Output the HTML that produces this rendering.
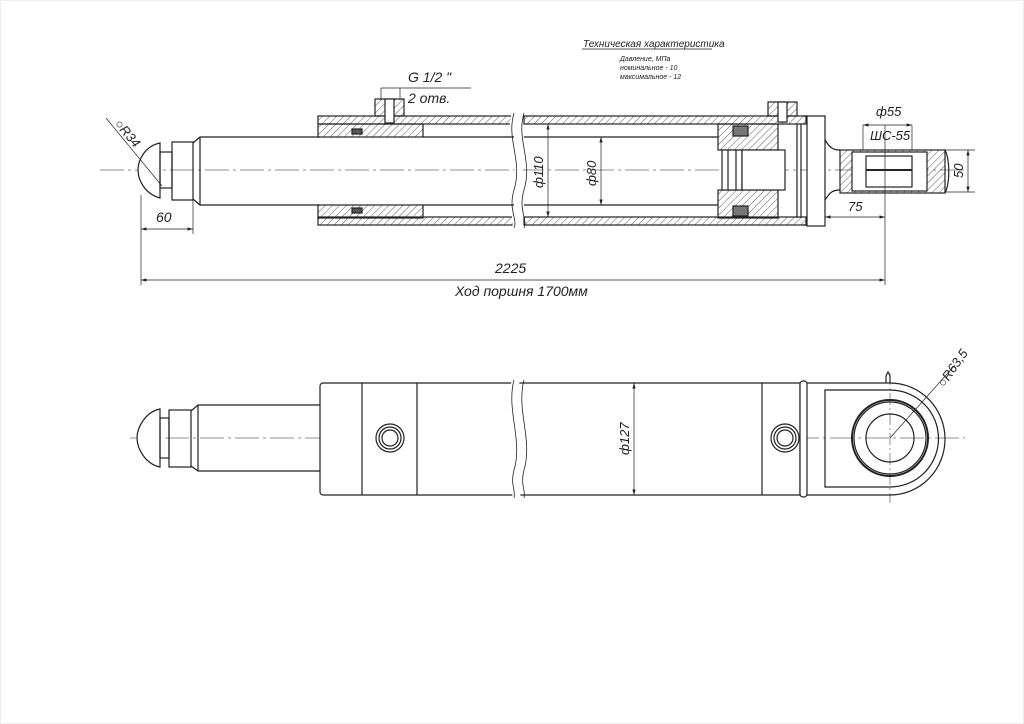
<!DOCTYPE html>
<html><head><meta charset="utf-8"><style>
html,body{margin:0;padding:0;background:#fff;}
svg{display:block;}
text{font-family:"Liberation Sans","DejaVu Sans",sans-serif;font-style:italic;fill:#222;}
</style></head><body>
<svg width="1024" height="724" viewBox="0 0 1024 724" xmlns="http://www.w3.org/2000/svg">
<defs>
<pattern id="h" width="5" height="5" patternUnits="userSpaceOnUse" patternTransform="rotate(45)">
<line x1="0" y1="0" x2="0" y2="5" stroke="#333" stroke-width="0.8"/>
</pattern>
<marker id="a" viewBox="0 0 10 6" refX="10" refY="3" markerWidth="8" markerHeight="5" orient="auto-start-reverse"><path d="M0,0 L10,3 L0,6z" fill="#222"/></marker>
</defs>
<rect x="0.5" y="0.5" width="1023" height="723" fill="#fff" stroke="#eee"/>
<g stroke="#222" stroke-width="1.2" fill="none">
<!-- TOP VIEW -->
<line x1="100" y1="170" x2="968" y2="170" stroke-width="0.6" stroke-dasharray="24,4,3,4"/>
<!-- ball head -->
<path d="M160,143 C145,146 138,160 138,170 C138,180 145,194 160,198 Z" fill="#fff"/>
<rect x="160" y="152" width="12" height="36"/>
<rect x="172" y="142" width="21" height="58"/>
<path d="M193,143 L200,137 L320,137 M193,199 L200,205 L320,205"/>
<line x1="200" y1="137" x2="200" y2="205"/>
<!-- cylinder walls hatched -->
<rect x="318" y="116" width="198" height="8" fill="url(#h)"/>
<rect x="318" y="217" width="198" height="8" fill="url(#h)"/>
<rect x="524" y="116" width="282" height="8" fill="url(#h)"/>
<rect x="524" y="217" width="282" height="8" fill="url(#h)"/>
<!-- gland -->
<rect x="318" y="124" width="105" height="13" fill="url(#h)"/>
<rect x="318" y="205" width="105" height="13" fill="url(#h)"/>
<rect x="352" y="129" width="10" height="5" fill="#555"/>
<rect x="352" y="208" width="10" height="5" fill="#555"/>
<!-- ports -->
<rect x="375" y="99" width="29" height="17" fill="url(#h)"/>
<rect x="385" y="99" width="9" height="24" fill="#fff"/>
<rect x="768" y="102" width="29" height="14" fill="url(#h)"/>
<rect x="778" y="102" width="9" height="20" fill="#fff"/>
<!-- break -->
<path d="M516,113 C508,140 525,160 516,190 C510,210 520,220 516,228" fill="#fff" stroke="#fff" stroke-width="8"/>
<path d="M514,113 C506,140 523,160 514,190 C508,210 518,220 514,228" stroke-width="0.8"/>
<path d="M524,113 C516,140 533,160 524,190 C518,210 528,220 524,228" stroke-width="0.8"/>
<!-- rod inside -->
<path d="M423,137 L514,137 M423,205 L514,205 M524,137 L718,137 M524,205 L718,205"/>
<!-- piston -->
<rect x="718" y="124" width="60" height="26" fill="url(#h)"/>
<rect x="718" y="190" width="60" height="28" fill="url(#h)"/>
<rect x="733" y="126" width="15" height="10" fill="#777"/>
<rect x="733" y="206" width="15" height="10" fill="#777"/>
<rect x="722" y="150" width="20" height="40" fill="#fff"/>
<line x1="728" y1="150" x2="728" y2="190"/><line x1="736" y1="150" x2="736" y2="190"/>
<rect x="742" y="150" width="43" height="40" fill="#fff"/>
<line x1="797" y1="124" x2="797" y2="218"/><line x1="801" y1="124" x2="801" y2="218"/>
<path d="M803,116 L808,116 L808,225 L803,225"/>
<!-- flange -->
<rect x="807" y="116" width="18" height="110" fill="#fff"/>
<path d="M825,140 C830,148 833,150 840,150 M825,200 C830,192 833,190 840,190"/>
<!-- eye -->
<rect x="840" y="150" width="105" height="43" fill="url(#h)"/>
<path d="M945,150 C950,160 950,183 945,193"/>
<rect x="852" y="152" width="75" height="39" fill="#fff"/>
<rect x="866" y="156" width="46" height="31" fill="#fff"/>
<line x1="866" y1="170" x2="912" y2="170" stroke-width="2"/>
<!-- dims top -->
<g stroke-width="0.7">
<line x1="141" y1="195" x2="141" y2="285"/>
<line x1="193" y1="200" x2="193" y2="234"/>
<line x1="141" y1="229" x2="193" y2="229" marker-start="url(#a)" marker-end="url(#a)"/>
<line x1="885" y1="125" x2="885" y2="285"/>
<line x1="141" y1="280" x2="885" y2="280" marker-start="url(#a)" marker-end="url(#a)"/>
<line x1="825" y1="217" x2="885" y2="217" marker-start="url(#a)" marker-end="url(#a)"/>
<line x1="863" y1="125" x2="912" y2="125" marker-start="url(#a)" marker-end="url(#a)"/>
<line x1="863" y1="125" x2="863" y2="150"/><line x1="912" y1="125" x2="912" y2="150"/>
<line x1="945" y1="150" x2="975" y2="150"/><line x1="945" y1="192" x2="975" y2="192"/>
<line x1="968" y1="150" x2="968" y2="192" marker-start="url(#a)" marker-end="url(#a)"/>
<line x1="548" y1="124" x2="548" y2="217" marker-start="url(#a)" marker-end="url(#a)"/>
<line x1="601" y1="137" x2="601" y2="205" marker-start="url(#a)" marker-end="url(#a)"/>
<line x1="381" y1="88" x2="471" y2="88"/>
<line x1="381" y1="88" x2="381" y2="100"/><line x1="400" y1="88" x2="400" y2="100"/>
<line x1="162" y1="186" x2="106" y2="118"/>
<line x1="582" y1="49" x2="712" y2="49"/>
</g>
<!-- BOTTOM VIEW -->
<line x1="130" y1="438" x2="965" y2="438" stroke-width="0.6" stroke-dasharray="24,4,3,4"/>
<path d="M160,409 C145,412 137,428 137,438 C137,448 145,464 160,467 Z" fill="#fff"/>
<rect x="160" y="418" width="9" height="40"/>
<rect x="169" y="410" width="22" height="57"/>
<path d="M191,411 L198,405 L320,405 M191,466 L198,471 L320,471"/>
<line x1="198" y1="405" x2="198" y2="471"/>
<rect x="320" y="383" width="486" height="112" rx="3" fill="#fff"/>
<line x1="362" y1="383" x2="362" y2="495"/>
<line x1="417" y1="383" x2="417" y2="495"/>
<line x1="762" y1="383" x2="762" y2="495"/>
<line x1="800" y1="383" x2="800" y2="495"/>
<rect x="800" y="381" width="7" height="116" rx="3" fill="#fff"/>
<path d="M516,380 C508,410 525,440 516,470 C512,485 518,490 516,498" stroke="#fff" stroke-width="8"/>
<path d="M514,380 C506,410 523,440 514,470 C510,485 516,490 514,498" stroke-width="0.8"/>
<path d="M524,380 C516,410 533,440 524,470 C520,485 526,490 524,498" stroke-width="0.8"/>
<circle cx="390" cy="438" r="14"/><circle cx="390" cy="438" r="11"/><circle cx="390" cy="438" r="8"/>
<circle cx="785" cy="438" r="14"/><circle cx="785" cy="438" r="11"/><circle cx="785" cy="438" r="8"/>
<path d="M807,383 L890,383 A55,56 0 0 1 890,495 L807,495"/>
<path d="M825,390 L890,390 A48,48 0 0 1 890,487 L825,487 Z"/>
<circle cx="890" cy="438" r="38" stroke-width="2"/>
<circle cx="890" cy="438" r="36"/>
<circle cx="890" cy="438" r="24"/>
<path d="M886,383 L886,376 L888,372 L890,376 L890,383"/>
<line x1="890" y1="373" x2="890" y2="503" stroke-width="0.5" stroke-dasharray="12,3,2,3"/>
<g stroke-width="0.7">
<line x1="634" y1="383" x2="634" y2="495" marker-start="url(#a)" marker-end="url(#a)"/>
<line x1="890" y1="438" x2="955" y2="365"/>
</g>
</g>
<g>
<text x="408" y="82" font-size="14">G 1/2 "</text>
<text x="408" y="103" font-size="14">2 отв.</text>
<text transform="translate(114,124) rotate(50)" font-size="13">○R34</text>
<text x="156" y="222" font-size="14">60</text>
<text x="495" y="273" font-size="14">2225</text>
<text x="455" y="296" font-size="14">Ход поршня 1700мм</text>
<text transform="translate(543,188) rotate(-90)" font-size="13">ф110</text>
<text transform="translate(596,186) rotate(-90)" font-size="13">ф80</text>
<text x="583" y="47" font-size="10">Техническая характеристика</text>
<text x="620" y="61" font-size="7">Давление, МПа</text>
<text x="620" y="70" font-size="7">номинальное  -  10</text>
<text x="620" y="79" font-size="7">максимальное - 12</text>
<text x="876" y="116" font-size="13">ф55</text>
<text x="870" y="140" font-size="13">ШС-55</text>
<text x="848" y="211" font-size="13">75</text>
<text transform="translate(963,178) rotate(-90)" font-size="13">50</text>
<text transform="translate(629,455) rotate(-90)" font-size="13">ф127</text>
<text transform="translate(944,388) rotate(-55)" font-size="13">○R63,5</text>
</g>
</svg>
</body></html>
